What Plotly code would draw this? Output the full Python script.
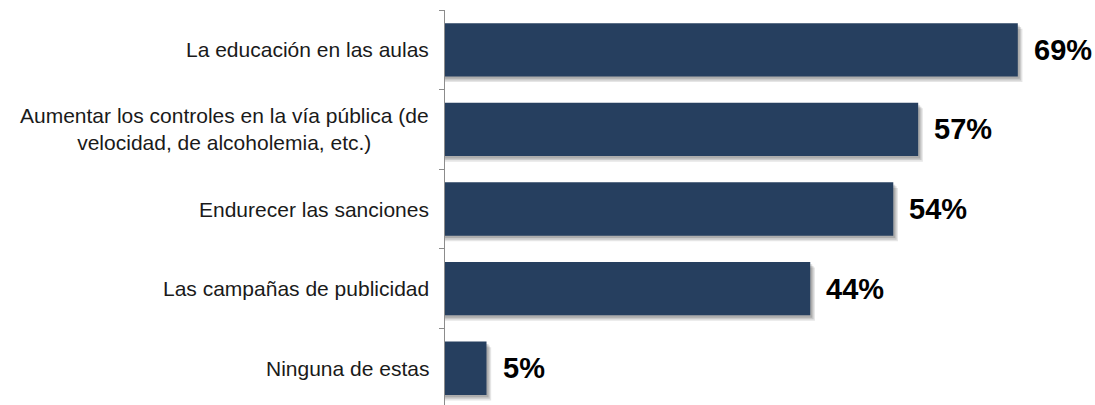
import plotly.graph_objects as go

categories = [
    "La educación en las aulas",
    "Aumentar los controles en la vía pública (de<br>velocidad, de alcoholemia, etc.)",
    "Endurecer las sanciones",
    "Las campañas de publicidad",
    "Ninguna de estas",
]
values = [69, 57, 54, 44, 5]
value_labels = ["69%", "57%", "54%", "44%", "5%"]

bar_color = "#263f5f"
font = "Liberation Sans, Arial, sans-serif"

fig = go.Figure()

# soft drop shadow under each bar
for off, alpha in [(0.07, 0.10), (0.05, 0.12), (0.03, 0.14)]:
    fig.add_trace(go.Bar(
        y=list(range(len(values))),
        x=[v + off * 8 for v in values],
        orientation="h",
        width=0.67,
        offset=-0.335 + off,
        marker=dict(color=f"rgba(0,0,0,{alpha})", line=dict(width=0)),
        hoverinfo="skip",
        showlegend=False,
    ))

fig.add_trace(go.Bar(
    y=list(range(len(values))),
    x=values,
    orientation="h",
    width=0.67,
    marker=dict(color=bar_color, line=dict(width=0)),
    showlegend=False,
))

for i, (v, lab) in enumerate(zip(values, value_labels)):
    fig.add_annotation(x=v, y=i, text=f"<b>{lab}</b>", showarrow=False,
                       xanchor="left", xshift=14,
                       font=dict(family=font, size=29, color="#000000"))

for i, c in enumerate(categories):
    fig.add_annotation(x=0, xref="paper", y=i, text=c, showarrow=False,
                       xanchor="right", align="center", xshift=-14,
                       font=dict(family=font, size=21, color="#1a1a1a"))

fig.update_layout(
    width=1095, height=405,
    margin=dict(l=445, r=0, t=10, b=0, autoexpand=False),
    plot_bgcolor="white", paper_bgcolor="white",
    barmode="overlay",
    xaxis=dict(range=[0, 78.3], visible=False),
    yaxis=dict(
        range=[4.462, -0.5],
        tickmode="array",
        tickvals=[i - 0.5 for i in range(len(values) + 1)],
        ticktext=[""] * (len(values) + 1),
        ticks="outside", ticklen=5, tickcolor="#8c8c8c",
        showline=True, linecolor="#8c8c8c", linewidth=1,
        showgrid=False, zeroline=False,
    ),
)

# drop the default page margin so the figure sits at the window's corner
fig.write_html("out.html", config={"displayModeBar": False},
               post_script="document.body.style.margin='0';")
